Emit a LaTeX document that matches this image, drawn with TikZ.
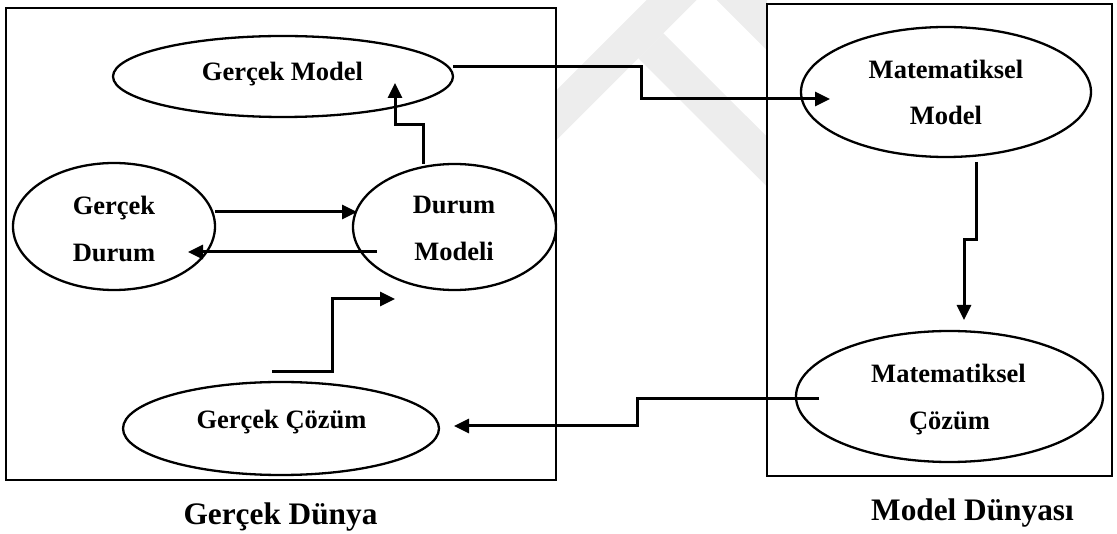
\documentclass[tikz,border=0pt]{standalone}
\usepackage{fontspec}
\setmainfont{Liberation Serif}
\usetikzlibrary{arrows.meta,shapes.geometric}
\begin{document}
\begin{tikzpicture}[x=1pt,y=-1pt,
  wm/.style={fill=black!7,draw=none},
  frame/.style={draw,fill=white,line width=2.3pt,inner sep=0pt},
  ell/.style={draw,ellipse,line width=2.3pt,inner sep=0pt},
  lbl/.style={font=\fontsize{26.5}{30}\selectfont\bfseries,anchor=base,inner sep=0pt},
  ttl/.style={font=\fontsize{31.3}{36}\selectfont\bfseries,anchor=base,inner sep=0pt},
  arr/.style={line width=3pt,-{Triangle[length=15pt,width=14pt]}}]
\useasboundingbox (0,0) rectangle (1117,534);
% faint watermark
\fill[wm] (550,96.7) -- (646.7,0) -- (696.7,0) -- (550,146.7) -- cycle;
\fill[wm] (716.7,0) -- (767,0) -- (767,50.3) -- cycle;
\fill[wm] (663.3,33.3) -- (767,136.7) -- (767,186.7) -- (638.3,58.3) -- cycle;
% worlds
\node[frame,minimum width=550pt,minimum height=472pt] (realw) at (281,244) {};
\node[frame,line width=2pt,minimum width=345pt,minimum height=472pt] (modelw) at (939.5,240) {};
% ellipses
\node[ell,minimum width=340pt,minimum height=81pt] (gm) at (283,76.5) {};
\node[ell,minimum width=202pt,minimum height=127pt] (gdur) at (114,226.5) {};
\node[ell,minimum width=203pt,minimum height=126pt] (dm) at (454.5,227) {};
\node[ell,minimum width=316pt,minimum height=93pt] (gc) at (281,428.5) {};
\node[ell,minimum width=290pt,minimum height=130pt] (mm) at (946,92) {};
\node[ell,minimum width=307pt,minimum height=131pt] (mc) at (949.5,396.5) {};
% labels
\node[lbl] (tgm) at (282.5,81) {Gerçek Model};
\node[lbl] (tgd1) at (114,215) {Gerçek};
\node[lbl] (tgd2) at (114,262) {Durum};
\node[lbl] (tdm1) at (454,214) {Durum};
\node[lbl] (tdm2) at (454,261) {Modeli};
\node[lbl] (tgc) at (281.5,429) {Gerçek Çözüm};
\node[lbl] (tmm1) at (946,79) {Matematiksel};
\node[lbl] (tmm2) at (946,125) {Model};
\node[lbl] (tmc1) at (948.5,383) {Matematiksel};
\node[lbl] (tmc2) at (949.5,430) {Çözüm};
\node[ttl] (trw) at (280.5,524) {Gerçek Dünya};
\node[ttl] (tmw) at (972.5,520) {Model Dünyası};
% connector ends
\coordinate (a1s) at (453,67);   \coordinate (a1e) at (830,99);
\coordinate (a2s) at (423,164);  \coordinate (a2e) at (395,83);
\coordinate (a3s) at (215,212);  \coordinate (a3e) at (357,212);
\coordinate (a4s) at (377,252);  \coordinate (a4e) at (188,252);
\coordinate (a5s) at (272,372);  \coordinate (a5e) at (395,299);
\coordinate (a6s) at (976,162);  \coordinate (a6e) at (964,320);
\coordinate (a7s) at (819,399);  \coordinate (a7e) at (454,426);
% connectors
\draw[arr] (a1s) -| (641,99) -- (a1e);
\draw[arr] (a2s) |- (395,125) -- (a2e);
\draw[arr] (a3s) -- (a3e);
\draw[arr] (a4s) -- (a4e);
\draw[arr] (a5s) -| (332,299) -- (a5e);
\draw[arr] (a6s) |- (964,240) -- (a6e);
\draw[arr] (a7s) -| (637,426) -- (a7e);
\end{tikzpicture}
\end{document}
